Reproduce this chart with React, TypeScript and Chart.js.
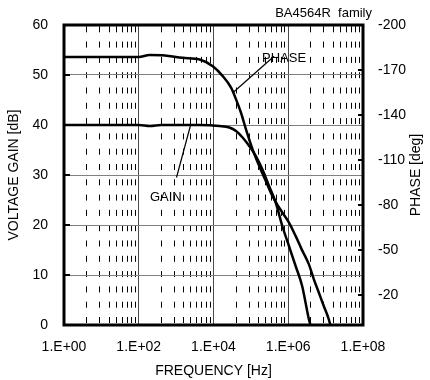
import React, { useEffect, useRef } from 'react';
import { Chart, registerables } from 'chart.js';

Chart.register(...registerables);

// ---- data ----
const gainFreq = [1, 10, 100, 200, 400, 1000, 4250, 14400, 26600, 40100, 60000, 90400, 136000, 204000, 307000, 462000, 693000, 1045000, 1574000, 2355000, 2897000, 3548000, 3936000];
const gainDb = [40, 40, 40, 39.8, 40, 40, 40, 39.8, 39.5, 38.8, 37.5, 35.8, 33.8, 31.1, 27.8, 24.5, 19.8, 15.8, 11.8, 7.8, 4.5, 1.2, 0];

const phaseFreq = [1, 100, 195, 500, 1480, 4250, 9570, 17700, 29500, 40100, 54400, 74000, 111000, 167000, 251000, 376000, 693000, 1045000, 1574000, 2270000, 3548000, 4820000, 6530000, 8870000, 12050000, 13370000];
const phaseDeg = [-178.6, -178.6, -180, -179.7, -178.1, -177, -172.5, -165.9, -158.2, -150.4, -141.5, -130.4, -117.1, -106, -96, -86, -75, -68.3, -59.4, -50.6, -40.6, -30.6, -21.8, -12.8, -4.1, 0];

const freqTicks = [1, 1e2, 1e4, 1e6, 1e8];
const gainTicks = [0, 10, 20, 30, 40, 50, 60];
const phaseTicks = [-200, -170, -140, -110, -80, -50, -20];
// minor (dashed) grid multipliers inside each 2-decade major interval
const minorMultipliers = [4, 9, 16, 25, 36, 49, 64, 81];

const chartTitle = 'BA4564R  family';
const phaseLabel = { text: 'PHASE', at: [10 ** 5.3, 53.3], from: [10 ** 5.62, 53.75], to: [10 ** 4.54, 46.6] };
const gainLabel = { text: 'GAIN', at: [10 ** 2.3, 25.6], from: [10 ** 3.01, 29.5], to: [10 ** 3.38, 39.8] };

const FONT = '"Liberation Sans", Arial, sans-serif';

const fmtFreq = (v: number) => {
  const e = Math.round(Math.log10(v));
  return '1.E+' + String(e).padStart(2, '0');
};

const minorTicks: number[] = [];
for (let k = 0; k < 4; k++) {
  for (const m of minorMultipliers) minorTicks.push(Math.pow(100, k) * m);
}

const overlay = {
  id: 'overlay',
  afterDatasetsDraw(chart: any) {
    const { ctx, chartArea: a, scales } = chart;
    const x = scales.x, y = scales.y, y2 = scales.y2;
    ctx.save();
    ctx.strokeStyle = '#000';
    ctx.lineWidth = 2;
    for (const v of gainTicks) {
      const py = y.getPixelForValue(v);
      ctx.beginPath(); ctx.moveTo(a.left, py); ctx.lineTo(a.left + 6, py); ctx.stroke();
    }
    for (const v of phaseTicks) {
      const py = y2.getPixelForValue(v);
      ctx.beginPath(); ctx.moveTo(a.right - 5, py); ctx.lineTo(a.right, py); ctx.stroke();
    }
    ctx.lineWidth = 3;
    ctx.strokeRect(a.left, a.top, a.right - a.left, a.bottom - a.top);

    ctx.lineWidth = 1.2;
    for (const lab of [phaseLabel, gainLabel]) {
      ctx.beginPath();
      ctx.moveTo(x.getPixelForValue(lab.from[0]), y.getPixelForValue(lab.from[1]));
      ctx.lineTo(x.getPixelForValue(lab.to[0]), y.getPixelForValue(lab.to[1]));
      ctx.stroke();
    }
    ctx.fillStyle = '#000';
    ctx.font = '13px ' + FONT;
    ctx.textBaseline = 'middle';
    ctx.textAlign = 'left';
    for (const lab of [phaseLabel, gainLabel]) {
      ctx.fillText(lab.text, x.getPixelForValue(lab.at[0]), y.getPixelForValue(lab.at[1]));
    }
    ctx.textAlign = 'right';
    ctx.fillText(chartTitle, a.right + 9, 13);

    // right axis title, reading bottom-to-top
    ctx.font = '14px ' + FONT;
    ctx.translate(416, (a.top + a.bottom) / 2);
    ctx.rotate(-Math.PI / 2);
    ctx.textAlign = 'center';
    ctx.fillText('PHASE [deg]', 0, 0);
    ctx.restore();
  },
};

export default function App() {
  const ref = useRef<HTMLCanvasElement>(null);
  useEffect(() => {
    if (!ref.current) return;
    const tickFont = { family: FONT, size: 14 };
    const chart = new Chart(ref.current, {
      type: 'line',
      data: {
        datasets: [
          {
            label: 'GAIN',
            data: gainFreq.map((f, i) => ({ x: f, y: gainDb[i] })),
            borderColor: '#000',
            borderWidth: 2.5,
            pointRadius: 0,
            cubicInterpolationMode: 'monotone',
            yAxisID: 'y',
            xAxisID: 'x',
          },
          {
            label: 'PHASE',
            data: phaseFreq.map((f, i) => ({ x: f, y: phaseDeg[i] })),
            borderColor: '#000',
            borderWidth: 2.5,
            pointRadius: 0,
            cubicInterpolationMode: 'monotone',
            yAxisID: 'y2',
            xAxisID: 'x',
          },
        ],
      },
      options: {
        responsive: false,
        animation: false,
        layout: { padding: { top: 25, left: 0, right: 0, bottom: 0 } },
        plugins: { legend: { display: false }, tooltip: { enabled: false }, title: { display: false } },
        scales: {
          x: {
            type: 'logarithmic',
            position: 'bottom',
            min: 1,
            max: 1e8,
            afterBuildTicks: (s: any) => { s.ticks = freqTicks.map((v) => ({ value: v })); },
            afterFit: (s: any) => { s.height = 55; },
            ticks: { callback: (v: any) => fmtFreq(Number(v)), font: tickFont, color: '#000', padding: 14, maxRotation: 0, autoSkip: false },
            grid: { color: '#4a4a4a', lineWidth: 1, drawTicks: false },
            border: { display: false },
            title: { display: true, text: 'FREQUENCY [Hz]', font: tickFont, color: '#000', padding: { top: 0, bottom: 0 } },
          },
          xm: {
            type: 'logarithmic',
            position: 'bottom',
            min: 1,
            max: 1e8,
            afterBuildTicks: (s: any) => { s.ticks = minorTicks.map((v) => ({ value: v })); },
            afterFit: (s: any) => { s.height = 0; },
            ticks: { display: false },
            grid: { color: '#000', lineWidth: 1, drawTicks: false },
            border: { display: false, dash: [6, 9.3], dashOffset: 14 },
          },
          y: {
            type: 'linear',
            position: 'left',
            min: 0,
            max: 60,
            afterBuildTicks: (s: any) => { s.ticks = gainTicks.map((v) => ({ value: v })); },
            afterFit: (s: any) => { s.width = 64; },
            ticks: { font: tickFont, color: '#000', padding: 16 },
            grid: { color: '#808080', lineWidth: 1, drawTicks: false },
            border: { display: false },
            title: { display: true, text: 'VOLTAGE GAIN [dB]', font: tickFont, color: '#000', padding: { top: 5.6, bottom: 0 } },
          },
          y2: {
            type: 'linear',
            position: 'right',
            min: -200,
            max: 0,
            reverse: true,
            afterBuildTicks: (s: any) => { s.ticks = phaseTicks.map((v) => ({ value: v })); },
            afterFit: (s: any) => { s.width = 67; },
            ticks: { font: tickFont, color: '#000', padding: 15 },
            grid: { drawOnChartArea: false, drawTicks: false },
            border: { display: false },
          },
        },
      } as any,
      plugins: [overlay],
    });
    return () => chart.destroy();
  }, []);

  return (
    <div style={{ position: 'fixed', left: 0, top: 0, width: 430, height: 380, background: '#fff' }}>
      <canvas ref={ref} width={430} height={380} />
    </div>
  );
}
